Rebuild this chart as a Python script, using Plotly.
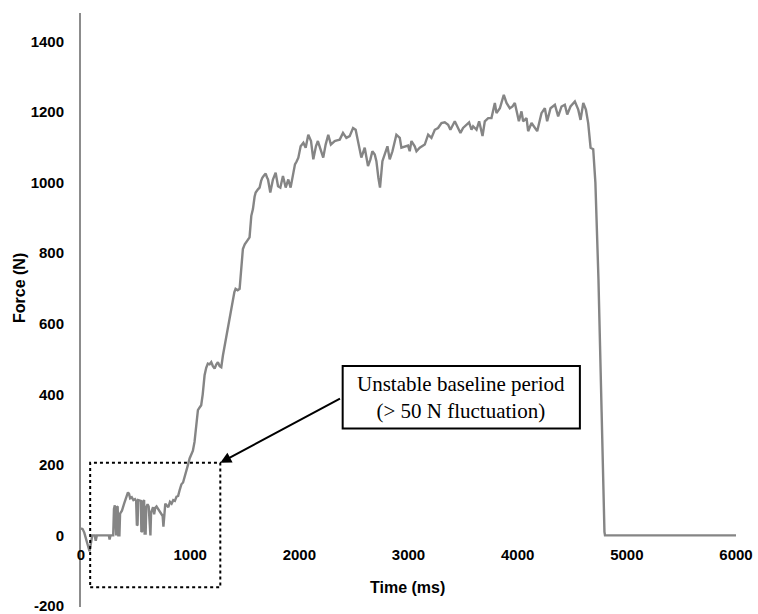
import plotly.graph_objects as go

# Force trace (time in ms, force in N)
time_ms = [
    0, 15, 30, 45, 60, 78, 92, 103, 125, 135, 145, 200, 255, 262, 270, 295,
    302, 310, 316, 322, 328, 336, 342, 352, 358, 375, 395, 415, 430, 440, 450,
    465, 480, 495, 505, 512, 518, 524, 540, 548, 553, 560, 568, 578, 583, 592,
    598, 610, 620, 628, 636, 642, 650, 660, 670, 680, 692, 705, 720, 735, 748,
    755, 762, 772, 785, 800, 815, 830, 845, 860, 875, 890, 905, 920, 935, 950,
    965, 980, 995, 1010, 1025, 1040, 1055, 1071, 1085, 1101, 1115, 1132, 1147,
    1162, 1178, 1193, 1208, 1224, 1240, 1254, 1270, 1285, 1300, 1323, 1346,
    1370, 1392, 1405, 1416, 1435, 1453, 1468, 1483, 1500, 1520, 1544, 1560,
    1575, 1590, 1600, 1621, 1636, 1650, 1661, 1676, 1692, 1703, 1713, 1734,
    1758, 1783, 1805, 1826, 1850, 1875, 1899, 1920, 1938, 1960, 1975, 1991,
    2012, 2037, 2058, 2082, 2107, 2128, 2152, 2170, 2195, 2219, 2241, 2265,
    2289, 2305, 2324, 2345, 2370, 2400, 2431, 2461, 2492, 2516, 2547, 2568,
    2599, 2629, 2651, 2669, 2691, 2706, 2724, 2739, 2761, 2782, 2807, 2828,
    2853, 2889, 2920, 2935, 2966, 2996, 3011, 3027, 3057, 3073, 3103, 3149,
    3180, 3210, 3241, 3271, 3302, 3332, 3363, 3384, 3424, 3455, 3476, 3500,
    3531, 3555, 3577, 3592, 3623, 3647, 3678, 3699, 3730, 3760, 3791, 3806,
    3837, 3861, 3873, 3898, 3928, 3953, 3974, 3995, 4011, 4035, 4050, 4081,
    4096, 4127, 4157, 4179, 4218, 4249, 4270, 4301, 4341, 4371, 4402, 4432,
    4454, 4484, 4524, 4555, 4576, 4601, 4625, 4646, 4668, 4692, 4712, 4740,
    4769, 4784, 4795, 4800, 6000,
]
force_n = [
    20, 18, 8, -10, -30, -45, -20, 0, 0, -15, 0, 0, 0, -12, 0, 0,
    75, 85, 0, 0, 82, 80, 0, 0, 62, 70, 90, 110, 122, 118, 105,
    108, 100, 103, 98, 28, 30, 100, 100, 98, 10, 12, 96, 100, 5, 5,
    80, 88, 82, 20, 0, 65, 75, 80, 60, 78, 82, 75, 70, 62, 55,
    25, 60, 90, 85, 80, 95, 90, 100, 98, 110, 112, 130, 145, 150, 165,
    182, 200, 218, 228, 240, 265, 303, 355, 362, 369, 400, 454, 475,
    487, 485, 491, 480, 473, 485, 491, 480, 477, 510, 550, 586,
    630, 670, 690, 699, 695, 699, 755, 812, 825, 835, 845, 906,
    925, 960, 972, 981, 986, 1005, 1014, 1020, 1026, 1015, 1009, 972,
    1009, 1028, 990, 986, 1019, 986, 1009, 986, 1014, 1052, 1060, 1071,
    1103, 1113, 1099, 1136, 1118, 1066, 1103, 1118, 1094, 1071, 1108, 1136,
    1108, 1112, 1118, 1120, 1122, 1141, 1127, 1132, 1155, 1150, 1108, 1071,
    1099, 1047, 1066, 1089, 1080, 1061, 1014, 986, 1061, 1080, 1103, 1066,
    1089, 1136, 1127, 1099, 1103, 1105, 1089, 1118, 1103, 1089, 1099, 1108,
    1136, 1127, 1150, 1155, 1169, 1171, 1164, 1150, 1174, 1155, 1141, 1155,
    1164, 1171, 1150, 1160, 1150, 1174, 1132, 1174, 1183, 1183, 1226, 1197,
    1211, 1235, 1249, 1226, 1211, 1216, 1226, 1197, 1174, 1202, 1174, 1183,
    1146, 1169, 1155, 1146, 1197, 1211, 1174, 1211, 1221, 1188, 1216, 1221,
    1193, 1216, 1230, 1207, 1178, 1226, 1207, 1169, 1099, 1095, 1000, 727,
    350, 87, 10, 0, 0,
]

x_ticks = [0, 1000, 2000, 3000, 4000, 5000, 6000]
y_ticks = [-200, 0, 200, 400, 600, 800, 1000, 1200, 1400]
y_range = [-203, 1481]

sans = "Liberation Sans, Arial, sans-serif"
serif = "Liberation Serif, Times New Roman, serif"

fig = go.Figure()
fig.add_trace(go.Scatter(
    x=time_ms, y=force_n, mode="lines",
    line=dict(color="#858585", width=2.4),
    hoverinfo="skip", showlegend=False,
))

# Dotted region marking the unstable baseline
fig.add_shape(type="rect", xref="x", yref="y",
              x0=84, x1=1276, y0=-147, y1=206,
              line=dict(color="black", width=2, dash="dot"))

# Callout box
fig.add_shape(type="rect", xref="x", yref="y",
              x0=2397, x1=4570, y0=303, y1=480,
              line=dict(color="black", width=2), fillcolor="white")
fig.add_annotation(x=3483, y=390, xref="x", yref="y",
                   xanchor="center", yanchor="middle",
                   text="Unstable baseline period<br>(> 50 N fluctuation)",
                   showarrow=False, align="center",
                   font=dict(family=serif, size=21, color="black"))

# Arrow from the callout to the dotted region
fig.add_annotation(x=1276, y=206, xref="x", yref="y",
                   ax=2386, ay=390, axref="x", ayref="y",
                   text="", showarrow=True, arrowhead=2, arrowsize=1.1,
                   arrowwidth=2, arrowcolor="black")

W, H = 758, 614
L, R, T, B = 81, 22, 13, 7
pw, ph = W - L - R, H - T - B

# Axis titles, positioned in pixels and converted to paper units
fig.add_annotation(x=(20 - L) / pw, y=(H - B - 288) / ph,
                   xref="paper", yref="paper", xanchor="center", yanchor="middle",
                   text="<b>Force (N)</b>", showarrow=False, textangle=-90,
                   font=dict(family=sans, size=16, color="black"))
fig.add_annotation(x=(407 - L) / pw, y=(H - B - 587) / ph,
                   xref="paper", yref="paper", xanchor="center", yanchor="middle",
                   text="<b>Time (ms)</b>", showarrow=False,
                   font=dict(family=sans, size=16, color="black"))

zero_pos = (0 - y_range[0]) / (y_range[1] - y_range[0])

fig.update_layout(
    width=W, height=H,
    margin=dict(l=L, r=R, t=T, b=B, autoexpand=False),
    paper_bgcolor="white", plot_bgcolor="white",
    xaxis=dict(
        range=[0, 6000], tickvals=x_ticks, ticktext=[str(v) for v in x_ticks],
        anchor="free", position=zero_pos, automargin=False,
        showline=False, showgrid=False, zeroline=False,
        ticks="outside", ticklen=6, tickcolor="rgba(0,0,0,0)",
        ticklabeloverflow="allow",
        tickfont=dict(family=sans, size=15, color="black", weight="bold"),
    ),
    yaxis=dict(
        range=y_range, tickvals=y_ticks, ticktext=[str(v) for v in y_ticks],
        automargin=False,
        showline=True, linecolor="#8c8c8c", linewidth=2,
        showgrid=False, zeroline=False,
        ticks="outside", ticklen=12, tickcolor="rgba(0,0,0,0)",
        ticklabeloverflow="allow",
        tickfont=dict(family=sans, size=15, color="black", weight="bold"),
    ),
)

fig.write_html("out.html")
